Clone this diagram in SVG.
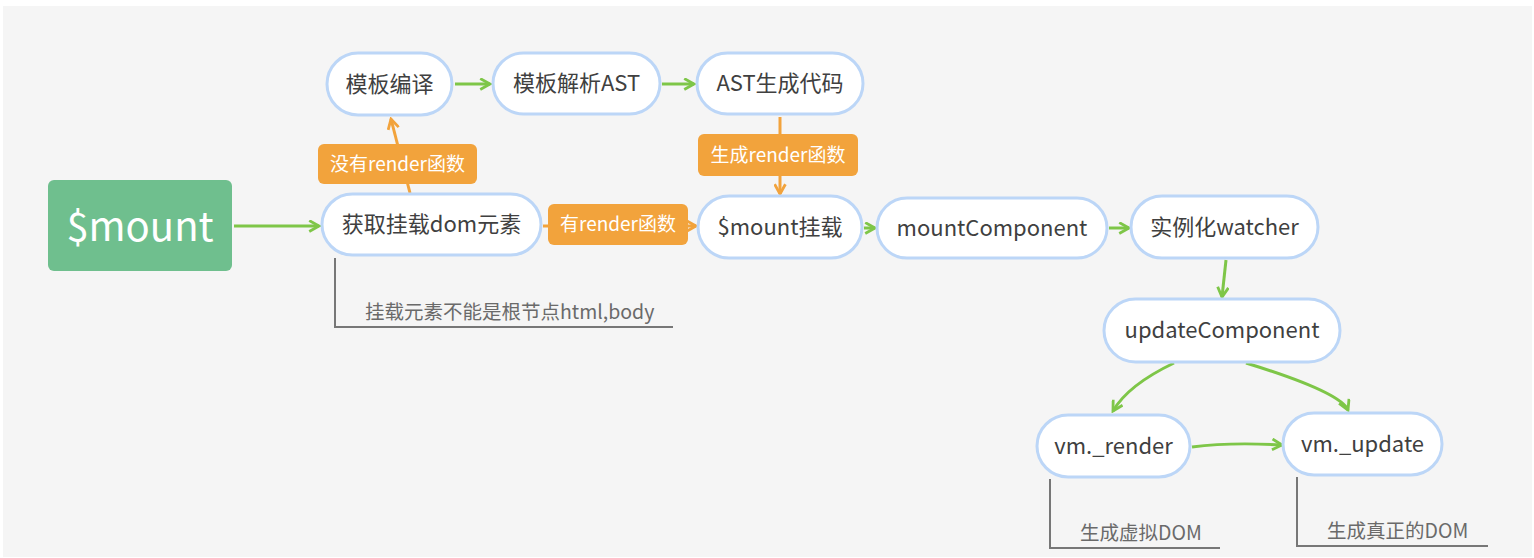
<svg xmlns="http://www.w3.org/2000/svg" width="1534" height="558" viewBox="0 0 1534 558">
<style>
.pill{fill:#ffffff;stroke:#bcd6f7;stroke-width:3}
.nt{font-family:"Noto Sans CJK SC","Open Sans",sans-serif;font-size:22px;fill:#404040;text-anchor:middle}
.lab{fill:#f2a33c}
.lt{font-family:"Noto Sans CJK SC","Open Sans",sans-serif;font-size:19px;fill:#ffffff;text-anchor:middle}
.g{fill:none;stroke:#7ec648;stroke-width:3}
.o{fill:none;stroke:#f2a33c;stroke-width:3}
.ann{fill:none;stroke:#777;stroke-width:2}
.at{font-family:"Noto Sans CJK SC","Open Sans",sans-serif;font-size:19.5px;fill:#6a6a6a}
</style>
<defs>
<marker id="ag" viewBox="0 0 12 12" refX="10" refY="6" markerWidth="13" markerHeight="13" markerUnits="userSpaceOnUse" orient="auto">
<path d="M1,1 L10,6 L1,11" fill="none" stroke="#7ec648" stroke-width="2.6"/>
</marker>
<marker id="ao" viewBox="0 0 12 12" refX="10" refY="6" markerWidth="13" markerHeight="13" markerUnits="userSpaceOnUse" orient="auto">
<path d="M1,1 L10,6 L1,11" fill="none" stroke="#f2a33c" stroke-width="2.6"/>
</marker>
</defs>
<rect x="0" y="0" width="1534" height="558" fill="#ffffff"/>
<rect x="3" y="6" width="1529" height="551" fill="#f5f5f5"/>

<g id="connectors">
<line class="g" x1="234" y1="226" x2="319" y2="226" marker-end="url(#ag)"/>
<path class="o" d="M410,193 L391,119" marker-end="url(#ao)"/>
<line class="g" x1="455" y1="84" x2="490" y2="84" marker-end="url(#ag)"/>
<line class="g" x1="662" y1="84" x2="694" y2="84" marker-end="url(#ag)"/>
<line class="o" x1="780" y1="117" x2="780" y2="194" marker-end="url(#ao)"/>
<line class="o" x1="543" y1="226" x2="696" y2="226" marker-end="url(#ao)"/>
<line class="g" x1="864" y1="228" x2="875" y2="228" marker-end="url(#ag)"/>
<line class="g" x1="1109" y1="228" x2="1129" y2="228" marker-end="url(#ag)"/>
<line class="g" x1="1226" y1="260" x2="1222" y2="297" marker-end="url(#ag)"/>
<path class="g" d="M1174,363 Q1128,385 1113,411" marker-end="url(#ag)"/>
<path class="g" d="M1246,363 Q1340,392 1348,410" marker-end="url(#ag)"/>
<path class="g" d="M1192,447 Q1230,442 1282,445" marker-end="url(#ag)"/>
</g>

<g id="n-mount">
<rect x="48" y="180" width="184" height="91" rx="6" fill="#6fbf8e"/>
<text x="140" y="241" font-family="'Noto Sans CJK SC','Open Sans',sans-serif" font-size="40" fill="#ffffff" text-anchor="middle">$mount</text>
</g>
<g id="n-get">
<rect class="pill" x="322" y="194" width="219" height="61" rx="30.5"/>
<text class="nt" x="431.5" y="232">获取挂载dom元素</text>
</g>
<g id="n-compile">
<rect class="pill" x="327" y="53" width="125" height="62" rx="31"/>
<text class="nt" x="389.5" y="92">模板编译</text>
</g>
<g id="n-parse">
<rect class="pill" x="493" y="53" width="167" height="61" rx="30.5"/>
<text class="nt" x="576.5" y="91">模板解析AST</text>
</g>
<g id="n-gen">
<rect class="pill" x="697" y="53" width="166" height="61" rx="30.5"/>
<text class="nt" x="780" y="91">AST生成代码</text>
</g>
<g id="n-mountmount">
<rect class="pill" x="698" y="196" width="164" height="62" rx="31"/>
<text class="nt" x="780" y="235">$mount挂载</text>
</g>
<g id="n-mountComponent">
<rect class="pill" x="877" y="198" width="230" height="60" rx="30"/>
<text class="nt" x="992" y="236">mountComponent</text>
</g>
<g id="n-watcher">
<rect class="pill" x="1131" y="196" width="187" height="62" rx="31"/>
<text class="nt" x="1224.5" y="235">实例化watcher</text>
</g>
<g id="n-update">
<rect class="pill" x="1104" y="299" width="236" height="63" rx="31.5"/>
<text class="nt" x="1222" y="338">updateComponent</text>
</g>
<g id="n-vmrender">
<rect class="pill" x="1037" y="415" width="153" height="62" rx="31"/>
<text class="nt" x="1113.5" y="454">vm._render</text>
</g>
<g id="n-vmupdate">
<rect class="pill" x="1283" y="413" width="159" height="62" rx="31"/>
<text class="nt" x="1362.5" y="452">vm._update</text>
</g>

<g id="l-norender">
<rect class="lab" x="318" y="144" width="159" height="40" rx="6"/>
<text class="lt" x="397.5" y="171">没有render函数</text>
</g>
<g id="l-genrender">
<rect class="lab" x="698" y="134" width="160" height="42" rx="6"/>
<text class="lt" x="778" y="162">生成render函数</text>
</g>
<g id="l-hasrender">
<rect class="lab" x="548" y="204" width="140" height="41" rx="6"/>
<text class="lt" x="618" y="231">有render函数</text>
</g>

<g id="a-root">
<path class="ann" d="M335,258 L335,327 L673,327"/>
<text class="at" x="365" y="319">挂载元素不能是根节点html,body</text>
</g>
<g id="a-vdom">
<path class="ann" d="M1050,479 L1050,548 L1220,548"/>
<text class="at" x="1080" y="540">生成虚拟DOM</text>
</g>
<g id="a-dom">
<path class="ann" d="M1297,477 L1297,546 L1488,546"/>
<text class="at" x="1327" y="538">生成真正的DOM</text>
</g>
</svg>
